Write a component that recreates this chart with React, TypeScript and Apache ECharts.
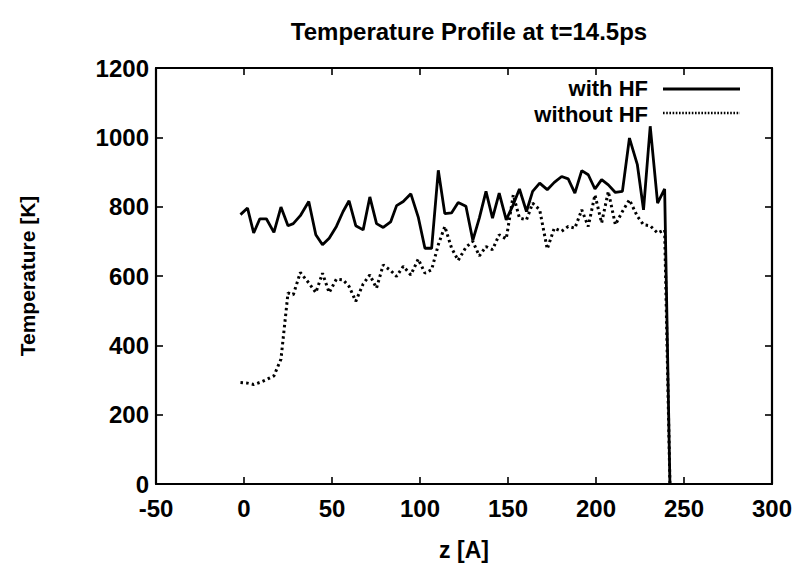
import React, { useEffect, useRef } from "react";
import * as echarts from "echarts";

const zValues = [-2, 2, 5.5, 9, 12.7, 17, 21, 25, 28, 32, 36.8, 40.8, 44.6, 48.4, 52.5, 56.3, 59.7, 63.5, 67.7, 71.5, 75.3, 79.1, 83.3, 86.7, 90.5, 94.8, 99, 102.8, 106.6, 110.4, 114.1, 117.9, 121.7, 126.1, 130, 133.7, 137.5, 141.2, 145, 149, 153, 156.5, 160.5, 164, 168, 172.3, 176.3, 180.5, 184.2, 188, 191.9, 195.6, 199.4, 203.2, 207, 211, 215, 219, 223.5, 227, 230.8, 235, 239, 242];

const withHF = [777, 796, 724, 765, 765, 726, 799, 745, 751, 774, 815, 719, 690, 709, 743, 786, 817, 745, 733, 828, 751, 740, 756, 803, 815, 837, 770, 680, 680, 905, 780, 782, 812, 801, 703, 767, 844, 767, 839, 762, 806, 851, 786, 844, 868, 849, 870, 887, 880, 839, 904, 892, 851, 878, 863, 841, 844, 998, 921, 791, 1032, 810, 851, 0];

const withoutHF = [293, 291, 287, 293, 301, 312, 360, 551, 546, 610, 580, 552, 608, 552, 591, 589, 570, 527, 577, 603, 565, 632, 616, 599, 628, 603, 649, 608, 618, 690, 743, 681, 645, 683, 700, 658, 685, 676, 719, 707, 834, 767, 762, 810, 791, 678, 738, 729, 743, 738, 791, 743, 834, 753, 844, 748, 786, 820, 772, 748, 745, 724, 733, 0];

const seriesNames = ["with HF", "without HF"];
const title = "Temperature Profile at t=14.5ps";
const xName = "z [A]";
const yName = "Temperature [K]";

const FONT = "'Liberation Sans', Arial, Helvetica, sans-serif";

export default function App() {
  const ref = useRef<HTMLDivElement>(null);
  useEffect(() => {
    if (!ref.current) return;
    const chart = echarts.init(ref.current, null, { renderer: "svg" });
    const pair = (ys: number[]) => zValues.map((z, i) => [z, ys[i]]);
    const tick = { show: true, inside: true, length: 7, lineStyle: { color: "#000", width: 1.6 } };
    const line = { show: true, onZero: false, lineStyle: { color: "#000", width: 2.2 } };
    const labelStyle = { fontFamily: FONT, fontSize: 24, fontWeight: "bold" as const, color: "#000", lineHeight: 20 };
    const xCommon = {
      type: "value" as const,
      min: -50,
      max: 300,
      interval: 50,
      splitLine: { show: false },
      axisLine: line,
      axisTick: tick,
    };
    const yCommon = {
      type: "value" as const,
      min: 0,
      max: 1200,
      interval: 200,
      splitLine: { show: false },
      axisLine: line,
      axisTick: tick,
    };
    const legendText = (text: string, y: number) => ({
      type: "text",
      x: 648,
      y,
      style: {
        text,
        fontFamily: FONT,
        fontSize: 22,
        fontWeight: "bold",
        fill: "#000",
        align: "right",
        verticalAlign: "middle",
      },
    });
    chart.setOption({
      animation: false,
      backgroundColor: "#fff",
      title: {
        text: title,
        left: 464,
        textAlign: "center",
        top: 14,
        textStyle: { fontFamily: FONT, fontSize: 24, fontWeight: "bold", color: "#000" },
      },
      grid: { left: 156, right: 32, top: 68, bottom: 89 },
      xAxis: [
        {
          ...xCommon,
          position: "bottom",
          name: xName,
          nameLocation: "middle",
          nameGap: 54,
          nameTextStyle: { fontFamily: FONT, fontSize: 23, fontWeight: "bold", color: "#000" },
          axisLabel: { margin: 14, formatter: (v: number) => String(v), ...labelStyle },
        },
        { ...xCommon, position: "top", axisLabel: { show: false } },
      ],
      yAxis: [
        {
          ...yCommon,
          position: "left",
          name: yName,
          nameLocation: "middle",
          nameGap: 118,
          nameTextStyle: { fontFamily: FONT, fontSize: 21, fontWeight: "bold", color: "#000" },
          axisLabel: { margin: 7, formatter: (v: number) => String(v), ...labelStyle },
        },
        { ...yCommon, position: "right", axisLabel: { show: false } },
      ],
      series: [
        {
          name: seriesNames[0],
          type: "line",
          data: pair(withHF),
          showSymbol: false,
          symbol: "none",
          lineStyle: { color: "#000", width: 2.8, type: "solid" },
        },
        {
          name: seriesNames[1],
          type: "line",
          data: pair(withoutHF),
          showSymbol: false,
          symbol: "none",
          lineStyle: { color: "#000", width: 3, type: [2.5, 3.2] },
        },
      ],
      graphic: [
        legendText(seriesNames[0], 88),
        {
          type: "line",
          shape: { x1: 663, y1: 89, x2: 740, y2: 89 },
          style: { stroke: "#000", lineWidth: 2.8 },
        },
        legendText(seriesNames[1], 114),
        {
          type: "line",
          shape: { x1: 663, y1: 113, x2: 740, y2: 113 },
          style: { stroke: "#000", lineWidth: 2.6, lineDash: [1.6, 1.6] },
        },
      ],
    });
    return () => chart.dispose();
  }, []);
  return <div ref={ref} style={{ width: 804, height: 573, position: "absolute", left: 0, top: 0 }} />;
}
